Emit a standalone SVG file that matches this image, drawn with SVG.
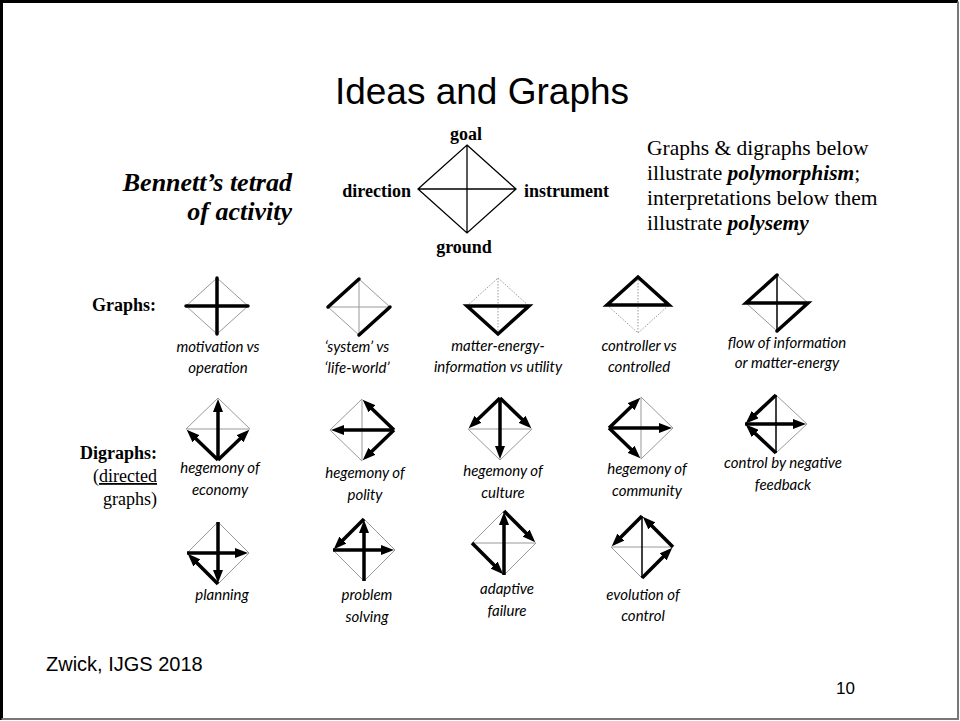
<svg xmlns="http://www.w3.org/2000/svg" width="960" height="721" viewBox="0 0 960 721">
<style>
.thin{stroke:#999;stroke-width:1;fill:none}
.dot{stroke:#999;stroke-width:1;stroke-dasharray:1.5 1.5;fill:none}
.thick{stroke:#000;stroke-width:3.5;stroke-linecap:round;fill:none}
.med{stroke:#000;stroke-width:1.5;fill:none}
.tet{stroke:#000;stroke-width:1.3;fill:none}
.arr{stroke:#000;stroke-width:3.5;fill:none;marker-end:url(#ah)}
.ser{font-family:"Liberation Serif","Times New Roman",serif;fill:#000}
.sb{font-family:"Liberation Serif","Times New Roman",serif;font-weight:bold;font-size:18px;fill:#000}
.lab{font-family:Lato,"Open Sans",sans-serif;font-style:italic;font-size:15px;fill:#000;text-anchor:middle}
.sans{font-family:"Liberation Sans",Arial,sans-serif;fill:#000}
</style>
<defs>
<marker id="ah" viewBox="0 0 13 10" refX="7" refY="5" markerWidth="13" markerHeight="10" orient="auto" markerUnits="userSpaceOnUse">
<path d="M0,0 L13,5 L0,10 z" fill="#000"/>
</marker>
</defs>
<rect x="0" y="0" width="960" height="721" fill="#fff"/>
<path d="M1.5,720 V1.5 H958" fill="none" stroke="#000" stroke-width="3"/>
<path d="M958,1.5 V719 H1.5" fill="none" stroke="#777" stroke-width="2"/>

<text class="sans" x="482" y="104" font-size="37" text-anchor="middle">Ideas and Graphs</text>

<g id="tetrad" transform="translate(467,189)">
<path class="tet" d="M0,-44 L49,0 L0,44 L-49,0 Z M0,-44 V44 M-49,0 H49"/>
<text class="sb" x="-1" y="-49" text-anchor="middle">goal</text>
<text class="sb" x="-56" y="8" text-anchor="end">direction</text>
<text class="sb" x="57" y="8">instrument</text>
<text class="sb" x="-3" y="64" text-anchor="middle">ground</text>
</g>

<g id="bennett">
<text class="ser" x="292" y="191" font-size="26" font-weight="bold" font-style="italic" text-anchor="end">Bennett’s tetrad</text>
<text class="ser" x="292" y="220" font-size="26" font-weight="bold" font-style="italic" text-anchor="end">of activity</text>
</g>

<g id="note" class="ser" font-size="21.5">
<text x="647" y="155">Graphs &amp; digraphs below</text>
<text x="647" y="180">illustrate <tspan font-weight="bold" font-style="italic">polymorphism</tspan>;</text>
<text x="647" y="205">interpretations below them</text>
<text x="647" y="230">illustrate <tspan font-weight="bold" font-style="italic">polysemy</tspan></text>
</g>

<text class="sb" x="92" y="311">Graphs:</text>
<text class="sb" x="157" y="459" text-anchor="end">Digraphs:</text>
<text class="ser" x="157" y="482" font-size="18" text-anchor="end">(<tspan text-decoration="underline">directed</tspan></text>
<text class="ser" x="157" y="505" font-size="18" text-anchor="end">graphs)</text>

<!-- Graphs row -->
<g id="g1" transform="translate(217,306)">
<path class="thin" d="M0,-28 L31,0 L0,28 L-31,0 Z"/>
<path class="thick" d="M0,-28 V28 M-31,0 H31"/>
<text class="lab" x="1" y="46">motivation vs</text>
<text class="lab" x="1" y="67">operation</text>
</g>
<g id="g2" transform="translate(359,307)">
<path class="thin" d="M0,-28 L31,0 M0,28 L-31,0 M0,-28 V28 M-31,0 H31"/>
<path class="thick" d="M-31,0 L0,-28 M0,28 L31,0"/>
<text class="lab" x="-2" y="45">‘system’ vs</text>
<text class="lab" x="-2" y="66">‘life-world’</text>
</g>
<g id="g3" transform="translate(498,306)">
<path class="dot" d="M-31,0 L0,-28 L31,0 M0,-28 V28"/>
<path class="thick" d="M-31,0 H31 L0,28 Z"/>
<text class="lab" x="0" y="45">matter-energy-</text>
<text class="lab" x="0" y="66">information vs utility</text>
</g>
<g id="g4" transform="translate(638,305)">
<path class="dot" d="M-31,0 L0,28 L31,0 M0,-28 V28"/>
<path class="thick" d="M-31,0 H31 L0,-28 Z"/>
<text class="lab" x="1" y="46">controller vs</text>
<text class="lab" x="1" y="67">controlled</text>
</g>
<g id="g5" transform="translate(777,303)">
<path class="thin" d="M0,-28 L31,0 M0,28 L-31,0"/>
<path class="med" d="M0,-28 V28"/>
<path class="thick" d="M0,-28 L-31,0 H31 L0,28"/>
<text class="lab" x="10" y="45">flow of information</text>
<text class="lab" x="10" y="65">or matter-energy</text>
</g>

<!-- Digraphs row -->
<g id="d1" transform="translate(218,429)">
<path class="thin" d="M-32,0 L0,-31 L32,0 M-32,0 H32"/>
<path class="arr" d="M0,31 V-24"/>
<path class="arr" d="M0,31 L-27,4.9"/>
<path class="arr" d="M0,31 L27,4.9"/>
<text class="lab" x="2" y="44">hegemony of</text>
<text class="lab" x="2" y="66">economy</text>
</g>
<g id="d2" transform="translate(362,430)">
<path class="thin" d="M0,-31 L-32,0 L0,31 M0,-31 V31"/>
<path class="arr" d="M32,0 H-25"/>
<path class="arr" d="M32,0 L5,-26.1"/>
<path class="arr" d="M32,0 L5,26.1"/>
<text class="lab" x="3" y="48">hegemony of</text>
<text class="lab" x="3" y="70">polity</text>
</g>
<g id="d3" transform="translate(500,429)">
<path class="thin" d="M-32,0 L0,31 L32,0 M-32,0 H32"/>
<path class="arr" d="M0,-31 V24"/>
<path class="arr" d="M0,-31 L-27,-4.9"/>
<path class="arr" d="M0,-31 L27,-4.9"/>
<text class="lab" x="3" y="47">hegemony of</text>
<text class="lab" x="3" y="69">culture</text>
</g>
<g id="d4" transform="translate(641,428)">
<path class="thin" d="M0,-31 L32,0 L0,31 M0,-31 V31"/>
<path class="arr" d="M-32,0 H25"/>
<path class="arr" d="M-32,0 L-5,-26.1"/>
<path class="arr" d="M-32,0 L-5,26.1"/>
<text class="lab" x="6" y="46">hegemony of</text>
<text class="lab" x="6" y="68">community</text>
</g>
<g id="d5" transform="translate(776,424)">
<path class="thin" d="M0,-29 L31,0 L0,29"/>
<path class="med" d="M0,-29 V29"/>
<path class="arr" d="M0,-29 L-25.9,-4.7"/>
<path class="arr" d="M-31,0 H24"/>
<path class="arr" d="M0,29 L-25.9,4.7"/>
<text class="lab" x="7" y="44">control by negative</text>
<text class="lab" x="7" y="66">feedback</text>
</g>

<!-- Third row -->
<g id="p1" transform="translate(218,553)">
<path class="thin" d="M-31,0 L0,-31 L31,0 L0,31"/>
<path class="arr" d="M0,-31 V24"/>
<path class="arr" d="M-31,0 H24"/>
<path class="arr" d="M0,31 L-26,5"/>
<text class="lab" x="4" y="47">planning</text>
</g>
<g id="p2" transform="translate(364,550)">
<path class="thin" d="M0,-31 L31,0 L0,31 L-31,0"/>
<path class="arr" d="M0,31 V-24"/>
<path class="arr" d="M0,-31 L-26,-5"/>
<path class="arr" d="M-31,0 H24"/>
<text class="lab" x="3" y="50">problem</text>
<text class="lab" x="3" y="72">solving</text>
</g>
<g id="p3" transform="translate(504,543)">
<path class="thin" d="M-32,0 L0,-32 M32,0 L0,32 M-32,0 H32"/>
<path class="arr" d="M0,32 V-25"/>
<path class="arr" d="M0,-32 L27,-5"/>
<path class="arr" d="M-32,0 L-5,27"/>
<text class="lab" x="3" y="51">adaptive</text>
<text class="lab" x="3" y="73">failure</text>
</g>
<g id="p4" transform="translate(642,547)">
<path class="thin" d="M-31,0 L0,31"/>
<path class="thin" d="M-31,0 H31" stroke="#bbb"/>
<path class="med" d="M0,-31 V31"/>
<path class="arr" d="M0,-31 L-26,-5"/>
<path class="arr" d="M0,31 L26,5"/>
<path class="arr" d="M31,0 L5,-26"/>
<text class="lab" x="1" y="53">evolution of</text>
<text class="lab" x="1" y="74">control</text>
</g>

<text class="sans" x="46" y="671" font-size="20">Zwick, IJGS 2018</text>
<text class="sans" x="855" y="694" font-size="17" text-anchor="end">10</text>
</svg>
